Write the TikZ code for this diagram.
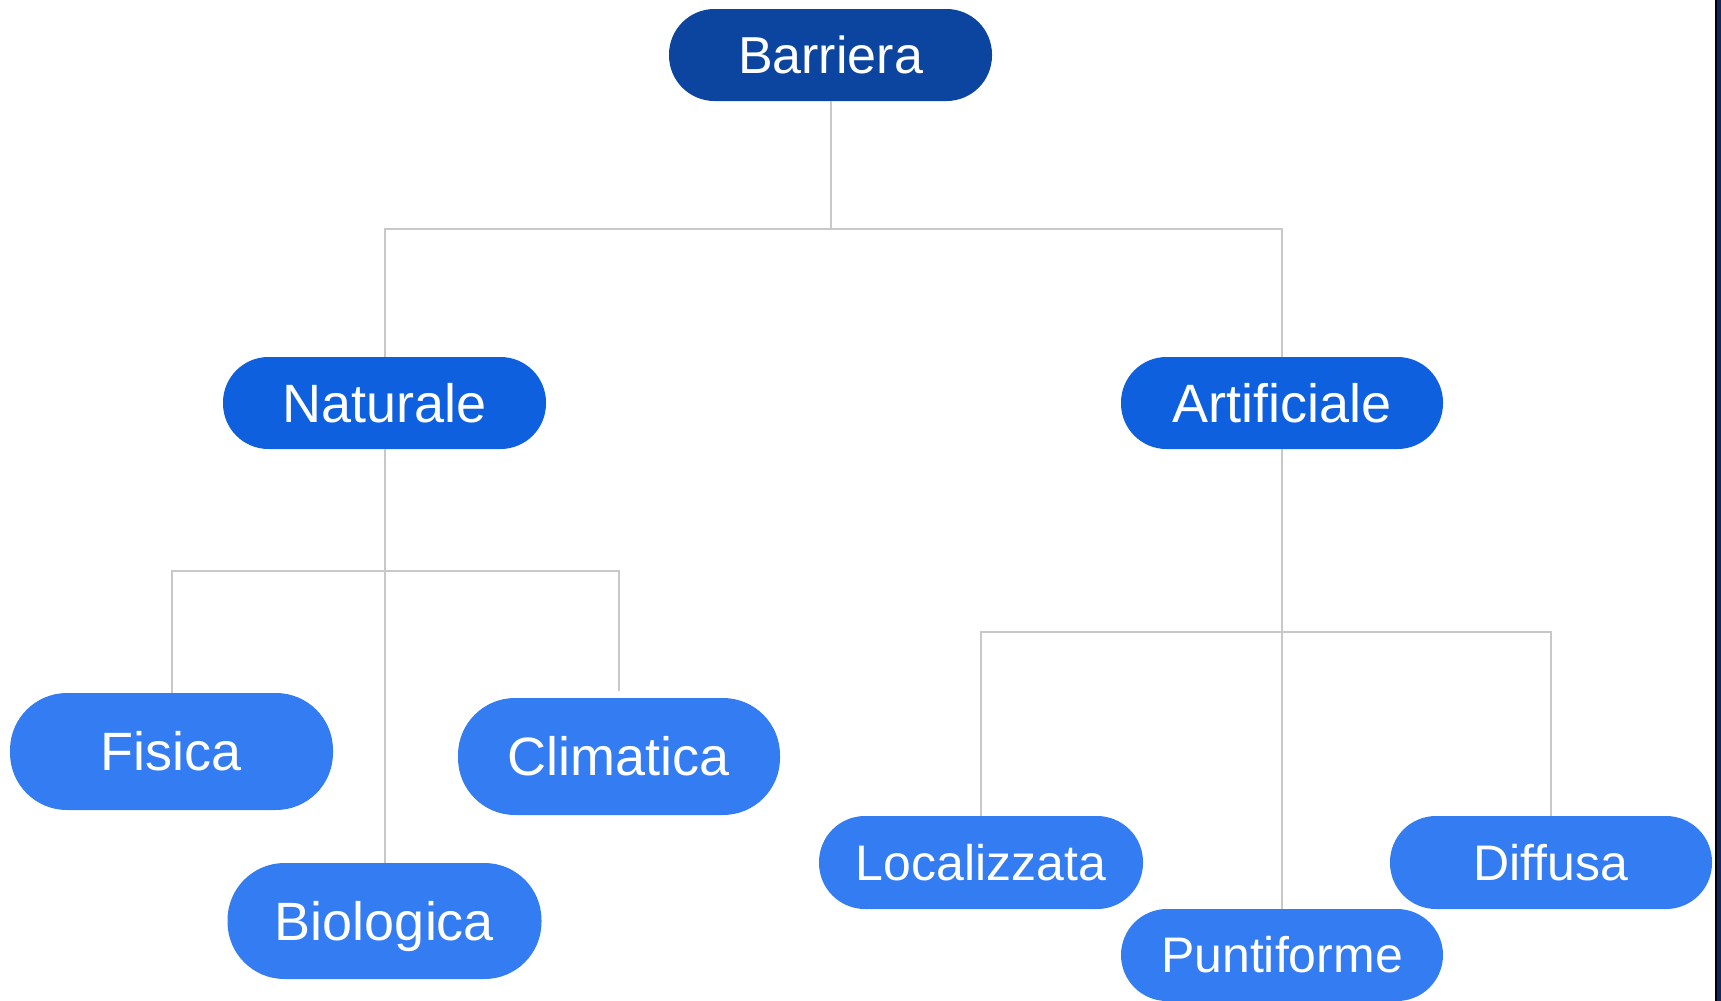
\documentclass[tikz,border=0pt]{standalone}
\usepackage{fontspec}
\setmainfont{Liberation Sans}
\usepackage{xcolor}
\usepackage{tikz}
\usetikzlibrary{positioning,calc}
\definecolor{treeroot}{RGB}{11,69,160}
\definecolor{treebranch}{RGB}{15,96,222}
\definecolor{treeleaf}{RGB}{52,124,242}
\definecolor{treelink}{RGB}{200,200,200}
\definecolor{treeedge}{RGB}{18,40,90}
\tikzset{
    tree node/.style={
        rectangle,
        text=white,
        draw=none,
        inner sep=0pt,
        outer sep=0pt,
        align=center,
        text depth=0pt,
    },
    tree root/.style={
        tree node,
        fill=treeroot,
        minimum width=323pt,
        minimum height=92pt,
        rounded corners=45.5pt,
        font=\fontsize{52}{60}\selectfont,
        text height=37.2pt,
    },
    tree branch/.style={
        tree node,
        fill=treebranch,
        minimum width=323pt,
        minimum height=92pt,
        rounded corners=45.5pt,
        font=\fontsize{54}{62}\selectfont,
        text height=38.7pt,
    },
    tree leaf/.style={
        tree node,
        fill=treeleaf,
        minimum width=323pt,
        minimum height=117pt,
        rounded corners=57pt,
        font=\fontsize{54}{62}\selectfont,
        text height=38.7pt,
    },
    tree small leaf/.style={
        tree leaf,
        minimum height=93pt,
        rounded corners=46pt,
        font=\fontsize{50}{58}\selectfont,
        text height=35.8pt,
    },
    tree link/.style={draw=treelink, line width=2pt},
}

\begin{document}
\begin{tikzpicture}[x=1pt,y=-1pt]
    \useasboundingbox (0,0) rectangle (1721,1001);

    %Top level
    \node[tree root] (barriera) at (830.5,55) {Barriera};

    %Second level
    \node[tree branch] (naturale) at (384.5,403) {Naturale};
    \node[tree branch, minimum width=322pt] (artificiale) at (1282,403) {Artificiale};

    %Leaves of Naturale
    \node[tree leaf] (fisica) at (171.5,751.5) {Fisica};
    \node[tree leaf, minimum width=322pt] (climatica) at (619,756.5) {Climatica};
    \node[tree leaf, minimum width=314pt, minimum height=116pt] (biologica) at (384.5,921) {Biologica};

    %Leaves of Artificiale
    \node[tree small leaf, minimum width=324pt] (localizzata) at (981,862.5) {Localizzata};
    \node[tree small leaf, minimum width=322pt, minimum height=92pt] (puntiforme) at (1282,955) {Puntiforme};
    \node[tree small leaf, minimum width=322pt] (diffusa) at (1551,862.5) {Diffusa};

    %Junctions
    \coordinate (root-fork) at (830.5,229);
    \coordinate (nat-fork) at (384.5,571);
    \coordinate (art-fork) at (1282,632);
    \coordinate (clim-end) at (619,691);

    \draw[tree link] (barriera.south) -- (root-fork) -| (naturale.north);
    \draw[tree link] (root-fork) -| (artificiale.north);

    \draw[tree link] (naturale.south) -- (biologica.north);
    \draw[tree link] (nat-fork) -| (fisica.north);
    \draw[tree link] (nat-fork) -| (clim-end);

    \draw[tree link] (artificiale.south) -- (puntiforme.north);
    \draw[tree link] (art-fork) -| (localizzata.north);
    \draw[tree link] (art-fork) -| (diffusa.north);

    %Window edge on the right
    \fill[treeedge] (1716,0) rectangle (1721,1001);
    \fill[black] (1715,0) rectangle (1717,1001);
\end{tikzpicture}
\end{document}
